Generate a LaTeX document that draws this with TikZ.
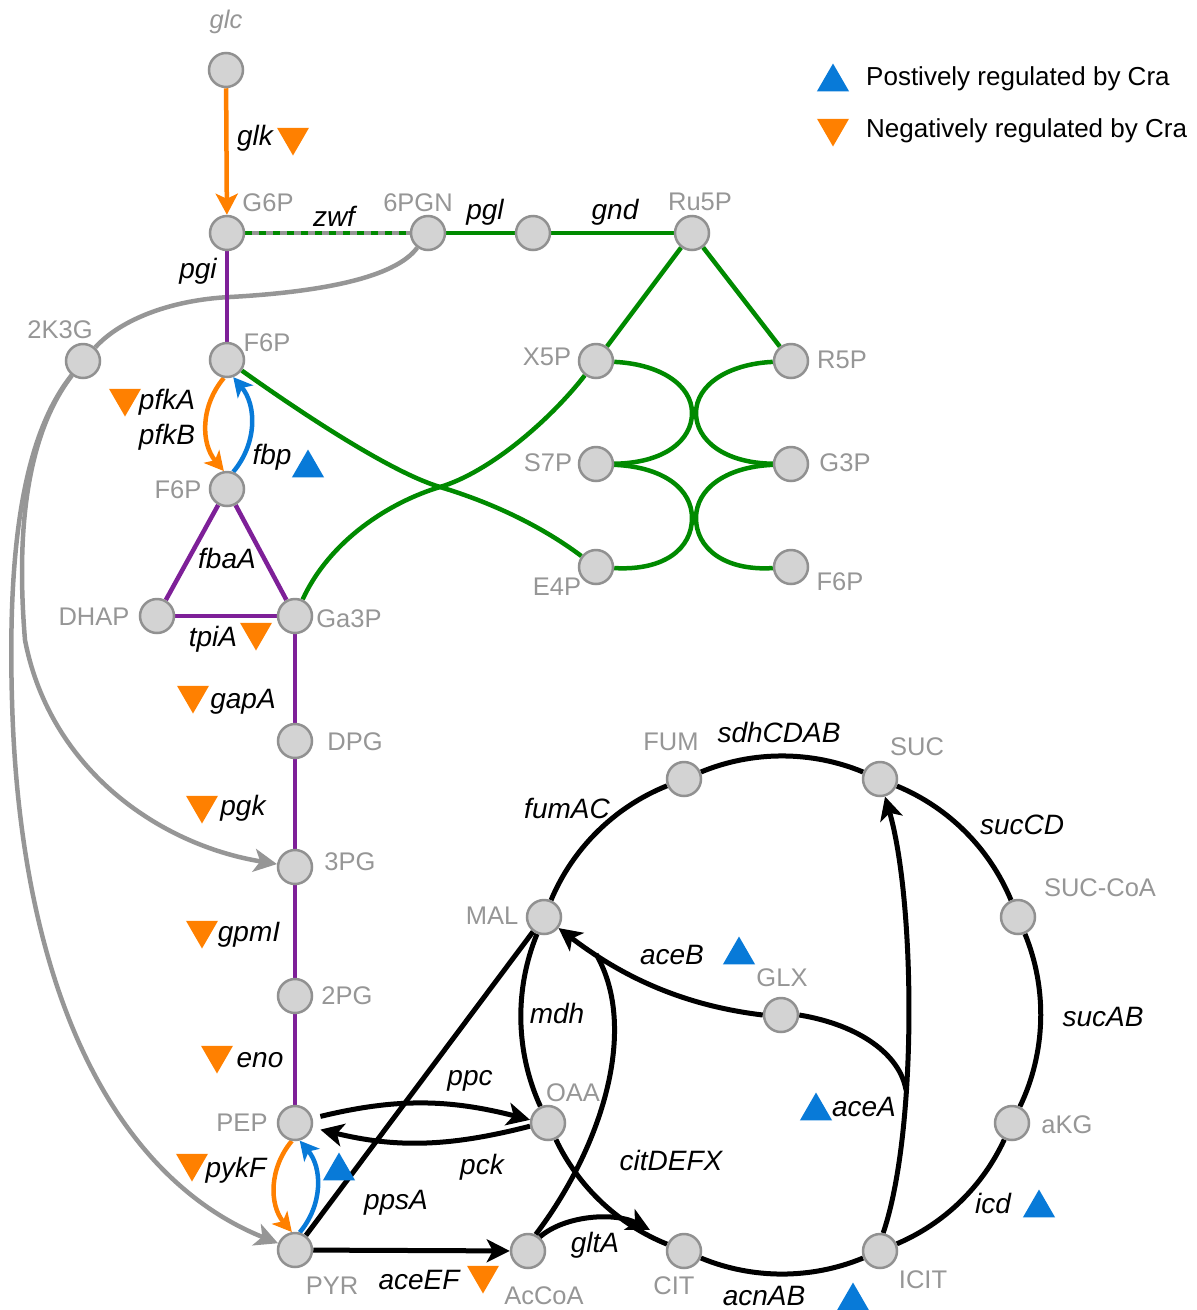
\documentclass[tikz,border=0pt]{standalone}
\usepackage{fontspec}
\setmainfont{Liberation Sans}
\usetikzlibrary{arrows.meta,shapes.geometric,backgrounds,calc}
\definecolor{cblue}{RGB}{8,122,216}
\definecolor{corange}{RGB}{255,128,0}
\definecolor{cgreen}{RGB}{0,138,0}
\definecolor{cpurple}{RGB}{126,32,152}
\definecolor{cgrayline}{RGB}{150,150,150}
\definecolor{nodefill}{RGB}{211,211,211}
\definecolor{nodeborder}{RGB}{145,145,145}
\definecolor{labgray}{RGB}{150,150,150}
\begin{document}
\begin{tikzpicture}[x=1pt,y=1pt,
 met/.style={circle,draw=nodeborder,fill=nodefill,line width=2.5pt,minimum size=34pt,inner sep=0pt},
 lbl/.style={text=labgray,font=\fontsize{25.5}{30}\selectfont,inner sep=0pt},
 lbli/.style={text=labgray,font=\fontsize{25.5}{30}\selectfont\itshape,inner sep=0pt},
 enz/.style={font=\fontsize{28}{33}\selectfont\itshape,inner sep=0pt},
 legtext/.style={font=\fontsize{26}{31}\selectfont,anchor=west,inner sep=0pt},
 uptri/.style={regular polygon,regular polygon sides=3,fill=cblue,minimum size=37pt,inner sep=0pt,outer sep=0pt},
 dntri/.style={uptri,fill=corange,shape border rotate=180},
 purp/.style={draw=cpurple,line width=4.5pt},
 grn/.style={draw=cgreen,line width=4.5pt},
 gry/.style={draw=cgrayline,line width=4.5pt},
 blk/.style={draw=black,line width=5pt},
 orng/.style={draw=corange,line width=4.5pt},
 blu/.style={draw=cblue,line width=4.5pt},
 bigtip/.style={-{Stealth[length=23pt,width=23pt,inset=6pt]}},
 smalltip/.style={-{Stealth[length=19pt,width=20pt,inset=5pt]}},
 arcstyle/.style={blk,looseness=0.885},
]
\useasboundingbox (0,0) rectangle (1197,-1310);

% metabolites
\node[met] (glc) at (226,-70) {};
\node[met] (G6P) at (227,-233) {};
\node[met] (PGN) at (428,-233) {};
\node[met] (pglN) at (533,-233) {};
\node[met] (Ru5P) at (692,-233) {};
\node[met] (K3G) at (83,-361) {};
\node[met] (F6Pa) at (227,-360) {};
\node[met] (X5P) at (596,-361) {};
\node[met] (R5P) at (791,-361) {};
\node[met] (S7P) at (596,-464) {};
\node[met] (G3P) at (791,-464) {};
\node[met] (F6Pb) at (227,-489) {};
\node[met] (E4P) at (596,-567) {};
\node[met] (F6Pc) at (791,-567) {};
\node[met] (DHAP) at (157,-616) {};
\node[met] (Ga3P) at (295,-616) {};
\node[met] (DPG) at (295,-741) {};
\node[met] (PGc) at (295,-867) {};
\node[met] (PGb) at (295,-996) {};
\node[met] (PEP) at (295,-1123) {};
\node[met] (PYR) at (295,-1250) {};
\node[met] (AcCoA) at (528,-1251) {};
\node[met] (OAA) at (548,-1123) {};
\node[met] (MAL) at (544,-917) {};
\node[met] (FUM) at (684,-779) {};
\node[met] (SUC) at (880,-779) {};
\node[met] (SCoA) at (1018,-917) {};
\node[met] (aKG) at (1012,-1123) {};
\node[met] (ICIT) at (880,-1251) {};
\node[met] (CIT) at (684,-1251) {};
\node[met] (GLX) at (781,-1015) {};

% metabolite labels
\node[lbli] (lglc) at (226,-22) {glc};
\node[lbl] (lG6P) at (268,-203) {G6P};
\node[lbl] (lPGN) at (418,-203) {6PGN};
\node[lbl] (lRu5P) at (700,-202) {Ru5P};
\node[lbl] (lK3G) at (60,-330) {2K3G};
\node[lbl] (lF6Pa) at (267,-343) {F6P};
\node[lbl] (lX5P) at (547,-357) {X5P};
\node[lbl] (lR5P) at (842,-360) {R5P};
\node[lbl] (lS7P) at (548,-463) {S7P};
\node[lbl] (lG3P) at (845,-463) {G3P};
\node[lbl] (lE4P) at (557,-587) {E4P};
\node[lbl] (lF6Pc) at (840,-582) {F6P};
\node[lbl] (lF6Pb) at (178,-490) {F6P};
\node[lbl] (lDHAP) at (94,-617) {DHAP};
\node[lbl] (lGa3P) at (349,-619) {Ga3P};
\node[lbl] (lDPG) at (355,-742) {DPG};
\node[lbl] (lPGc) at (350,-862) {3PG};
\node[lbl] (lPGb) at (347,-996) {2PG};
\node[lbl] (lPEP) at (242,-1123) {PEP};
\node[lbl] (lPYR) at (332,-1286) {PYR};
\node[lbl] (lAcCoA) at (544,-1296) {AcCoA};
\node[lbl] (lOAA) at (573,-1093) {OAA};
\node[lbl] (lCIT) at (674,-1286) {CIT};
\node[lbl] (lICIT) at (923,-1280) {ICIT};
\node[lbl] (laKG) at (1067,-1125) {aKG};
\node[lbl] (lSCoA) at (1100,-888) {SUC-CoA};
\node[lbl] (lSUC) at (917,-747) {SUC};
\node[lbl] (lFUM) at (671,-742) {FUM};
\node[lbl] (lMAL) at (492,-916) {MAL};
\node[lbl] (lGLX) at (782,-978) {GLX};

% enzyme labels
\node[enz] (eglk) at (255,-138) {glk};
\node[enz] (ezwf) at (334,-216) {zwf};
\node[enz] (epgl) at (485,-212) {pgl};
\node[enz] (egnd) at (615,-212) {gnd};
\node[enz] (epgi) at (198,-271) {pgi};
\node[enz] (epfkA) at (167,-402) {pfkA};
\node[enz] (epfkB) at (167,-437) {pfkB};
\node[enz] (efbp) at (272,-457) {fbp};
\node[enz] (efbaA) at (227,-558) {fbaA};
\node[enz] (etpiA) at (213,-639) {tpiA};
\node[enz] (egapA) at (243,-702) {gapA};
\node[enz] (epgk) at (243,-808) {pgk};
\node[enz] (egpmI) at (249,-935) {gpmI};
\node[enz] (eeno) at (260,-1060) {eno};
\node[enz] (epykF) at (236,-1170) {pykF};
\node[enz] (eppc) at (470,-1081) {ppc};
\node[enz] (epck) at (482,-1167) {pck};
\node[enz] (eppsA) at (396,-1203) {ppsA};
\node[enz] (eaceEF) at (419,-1280) {aceEF};
\node[enz] (egltA) at (595,-1245) {gltA};
\node[enz] (ecit) at (671,-1160) {citDEFX};
\node[enz] (eacnAB) at (764,-1296) {acnAB};
\node[enz] (eaceA) at (864,-1107) {aceA};
\node[enz] (emdh) at (557,-1013) {mdh};
\node[enz] (eaceB) at (672,-955) {aceB};
\node[enz] (efumAC) at (567,-808) {fumAC};
\node[enz] (esdh) at (779,-732) {sdhCDAB};
\node[enz] (esucCD) at (1022,-825) {sucCD};
\node[enz] (esucAB) at (1103,-1017) {sucAB};
\node[enz] (eicd) at (993,-1203) {icd};

% regulation triangles
\node[dntri] (tglk) at (293,-137) {};
\node[dntri] (tpfk) at (125,-398) {};
\node[uptri] (tfbp) at (308,-468) {};
\node[dntri] (ttpi) at (256,-632) {};
\node[dntri] (tgap) at (193,-695) {};
\node[dntri] (tpgk) at (202,-805) {};
\node[dntri] (tgpm) at (202,-930) {};
\node[dntri] (teno) at (217,-1055) {};
\node[dntri] (tpyk) at (192,-1163) {};
\node[uptri] (tpps) at (339,-1171) {};
\node[dntri] (tace) at (483,-1275) {};
\node[uptri] (taceB) at (739,-955) {};
\node[uptri] (taceA) at (816,-1111) {};
\node[uptri] (ticd) at (1039,-1208) {};
\node[uptri] (tacn) at (853,-1301) {};

% legend
\node[uptri] (legup) at (833,-82) {};
\node[legtext] (legpos) at (866,-79) {Postively regulated by Cra};
\node[dntri] (legdn) at (833,-128) {};
\node[legtext] (legneg) at (866,-131) {Negatively regulated by Cra};

\begin{pgfonlayer}{background}
% glucose uptake
\draw[orng,-{Stealth[length=21pt,width=22pt,inset=5pt]}] (glc) -- (G6P);
% oxidative PPP
\draw[grn] (G6P) -- (PGN);
\draw[gry,dash pattern=on 7pt off 7pt,dash phase=7pt] (G6P) -- (PGN);
\draw[grn] (PGN) -- (pglN) -- (Ru5P);
\draw[grn] (Ru5P) -- (X5P);
\draw[grn] (Ru5P) -- (R5P);
% non-oxidative PPP
\draw[grn] (X5P) .. controls (660,-364) and (692,-385) .. (692,-413) .. controls (692,-440) and (665,-463) .. (S7P);
\draw[grn] (R5P) .. controls (728,-364) and (696,-385) .. (696,-413) .. controls (696,-440) and (724,-463) .. (G3P);
\draw[grn] (S7P) .. controls (665,-467) and (692,-490) .. (692,-518) .. controls (692,-548) and (665,-571) .. (E4P);
\draw[grn] (G3P) .. controls (724,-467) and (696,-490) .. (696,-518) .. controls (696,-548) and (724,-571) .. (F6Pc);
\draw[grn] (F6Pa) .. controls (300,-412) and (390,-472) .. (440,-487) .. controls (490,-502) and (540,-525) .. (E4P);
\draw[grn] (X5P) .. controls (550,-420) and (490,-472) .. (440,-487) .. controls (390,-502) and (330,-540) .. (Ga3P);
% ED / 2K3G branch
\draw[gry] (PGN) .. controls (395,-278) and (320,-292) .. (230,-297) .. controls (170,-300) and (120,-320) .. (K3G);
\draw[gry,bigtip] (K3G) .. controls (30,-430) and (15,-520) .. (25,-640) .. controls (50,-770) and (160,-845) .. (PGc);
\draw[gry,bigtip] (K3G) .. controls (20,-440) and (8,-560) .. (12,-700) .. controls (20,-1000) and (120,-1180) .. (PYR);
% glycolysis
\draw[purp] (G6P) -- (F6Pa);
\draw[orng,smalltip] (F6Pa.-100) to[bend right=40] (F6Pb.100);
\draw[blu,smalltip] (F6Pb.70) to[bend right=40] (F6Pa.-70);
\draw[purp] (F6Pb) -- (DHAP);
\draw[purp] (F6Pb) -- (Ga3P);
\draw[purp] (DHAP) -- (Ga3P);
\draw[purp] (Ga3P) -- (DPG) -- (PGc) -- (PGb) -- (PEP);
\draw[orng,smalltip] (PEP.-100) to[bend right=40] (PYR.100);
\draw[blu,smalltip] (PYR.75) to[bend right=40] (PEP.-75);
% anaplerosis
\draw[blk,bigtip,shorten <=8pt] (PEP.15) to[bend left=14] (OAA.170);
\draw[blk,bigtip,shorten >=8pt] (OAA.190) to[bend left=14] (PEP.-15);
\draw[blk,bigtip] (PYR) -- (AcCoA);
\draw[blk] (PYR) -- (MAL);
% TCA cycle
\draw[arcstyle] (MAL) to[bend left=22.75] (FUM);
\draw[arcstyle] (FUM) to[bend left=22.5] (SUC);
\draw[arcstyle] (SUC) to[bend left=22.5] (SCoA);
\draw[arcstyle] (SCoA) to[bend left=24] (aKG);
\draw[arcstyle] (aKG) to[bend left=21] (ICIT);
\draw[arcstyle] (ICIT) to[bend left=22.5] (CIT);
\draw[arcstyle] (CIT) to[bend left=21.25] (OAA);
\draw[arcstyle] (OAA) to[bend left=23.5] (MAL);
% citrate synthase, citrate lyase
\coordinate (gltAend) at (650,-1230);
\draw[blk,bigtip] (AcCoA.50) .. controls (565,-1215) and (615,-1212) .. (gltAend);
\coordinate (citEnd) at (596,-954);
\draw[blk] (AcCoA.65) .. controls (600,-1150) and (640,-1030) .. (citEnd);
% glyoxylate shunt
\draw[blk,bigtip] (GLX.west) .. controls (680,-1005) and (620,-975) .. (MAL);
\draw[blk,bigtip] (ICIT.80) .. controls (918,-1130) and (915,-900) .. (SUC);
\coordinate (aceAj) at (906,-1090);
\draw[blk] (GLX.east) .. controls (860,-1025) and (900,-1055) .. (aceAj);
\end{pgfonlayer}
\end{tikzpicture}
\end{document}
